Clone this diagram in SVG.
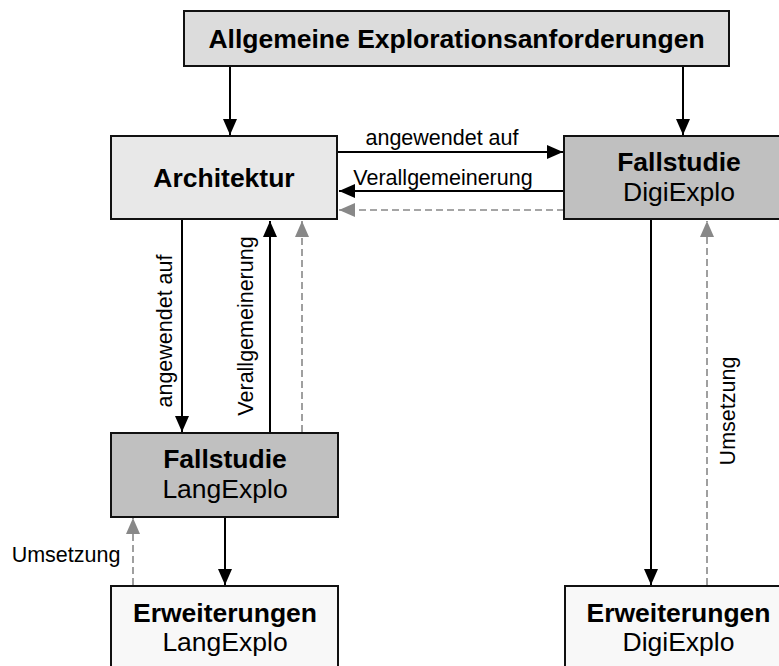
<svg xmlns="http://www.w3.org/2000/svg" width="779" height="666" viewBox="0 0 779 666">
<defs>
<marker id="ah" viewBox="0 0 16 14" refX="16" refY="7" markerWidth="16" markerHeight="14" markerUnits="userSpaceOnUse" orient="auto"><path d="M0,0 L16,7 L0,14 Z" fill="#000"/></marker>
<marker id="ahg" viewBox="0 0 16 14" refX="16" refY="7" markerWidth="16" markerHeight="14" markerUnits="userSpaceOnUse" orient="auto"><path d="M0,0 L16,7 L0,14 Z" fill="#888"/></marker>
</defs>
<style>
.box{stroke:#111;stroke-width:2}
.t{font-family:"Liberation Sans",Arial,sans-serif;font-size:26.5px;text-anchor:middle;fill:#000}
.b{font-weight:bold}
.l{font-family:"Liberation Sans",Arial,sans-serif;font-size:21.5px;text-anchor:middle;fill:#000}
.s{stroke:#000;stroke-width:2;fill:none;marker-end:url(#ah)}
.d{stroke:#888;stroke-width:1.6;stroke-dasharray:7,4;fill:none;marker-end:url(#ahg)}
</style>
<rect width="779" height="666" fill="#fff"/>
<g id="connectors">
<line class="s" x1="230" y1="66" x2="230" y2="135"/>
<line class="s" x1="683" y1="66" x2="683" y2="135"/>
<line class="s" x1="338" y1="152" x2="563" y2="152"/>
<text class="l" x="442" y="145">angewendet auf</text>
<line class="s" x1="564" y1="191" x2="339" y2="191"/>
<text class="l" x="443" y="185">Verallgemeinerung</text>
<line class="d" x1="564" y1="210" x2="339" y2="210"/>
<line class="s" x1="182" y1="220" x2="182" y2="432"/>
<text class="l" transform="translate(172,331) rotate(-90)">angewendet auf</text>
<line class="s" x1="270" y1="432" x2="270" y2="221"/>
<text class="l" transform="translate(253,326) rotate(-90)">Verallgemeinerung</text>
<line class="d" x1="302" y1="432" x2="302" y2="221"/>
<line class="s" x1="225" y1="518" x2="225" y2="585"/>
<line class="d" x1="133" y1="585" x2="133" y2="518"/>
<text class="l" x="66" y="562">Umsetzung</text>
<line class="s" x1="651" y1="220" x2="651" y2="585"/>
<line class="d" x1="707" y1="585" x2="707" y2="221"/>
<text class="l" transform="translate(735,411) rotate(-90)">Umsetzung</text>
</g>
<g id="allgemeine">
<rect class="box" x="184" y="11" width="545" height="55" fill="#dcdcdc"/>
<text class="t b" x="456.5" y="48">Allgemeine Explorationsanforderungen</text>
</g>
<g id="architektur">
<rect class="box" x="111" y="136" width="226" height="83" fill="#e8e8e8"/>
<text class="t b" x="224" y="187">Architektur</text>
</g>
<g id="fallstudie-digiexplo">
<rect class="box" x="564" y="136" width="228" height="83" fill="#c0c0c0"/>
<text class="t b" x="679" y="171">Fallstudie</text>
<text class="t" x="679" y="201">DigiExplo</text>
</g>
<g id="fallstudie-langexplo">
<rect class="box" x="111" y="433" width="227" height="84" fill="#c0c0c0"/>
<text class="t b" x="225" y="468">Fallstudie</text>
<text class="t" x="225" y="498">LangExplo</text>
</g>
<g id="erweiterungen-langexplo">
<rect class="box" x="111" y="586" width="227" height="90" fill="#f8f8f8"/>
<text class="t b" x="225" y="622">Erweiterungen</text>
<text class="t" x="225" y="651">LangExplo</text>
</g>
<g id="erweiterungen-digiexplo">
<rect class="box" x="565" y="586" width="227" height="90" fill="#f8f8f8"/>
<text class="t b" x="678.5" y="622">Erweiterungen</text>
<text class="t" x="678.5" y="651">DigiExplo</text>
</g>
</svg>
